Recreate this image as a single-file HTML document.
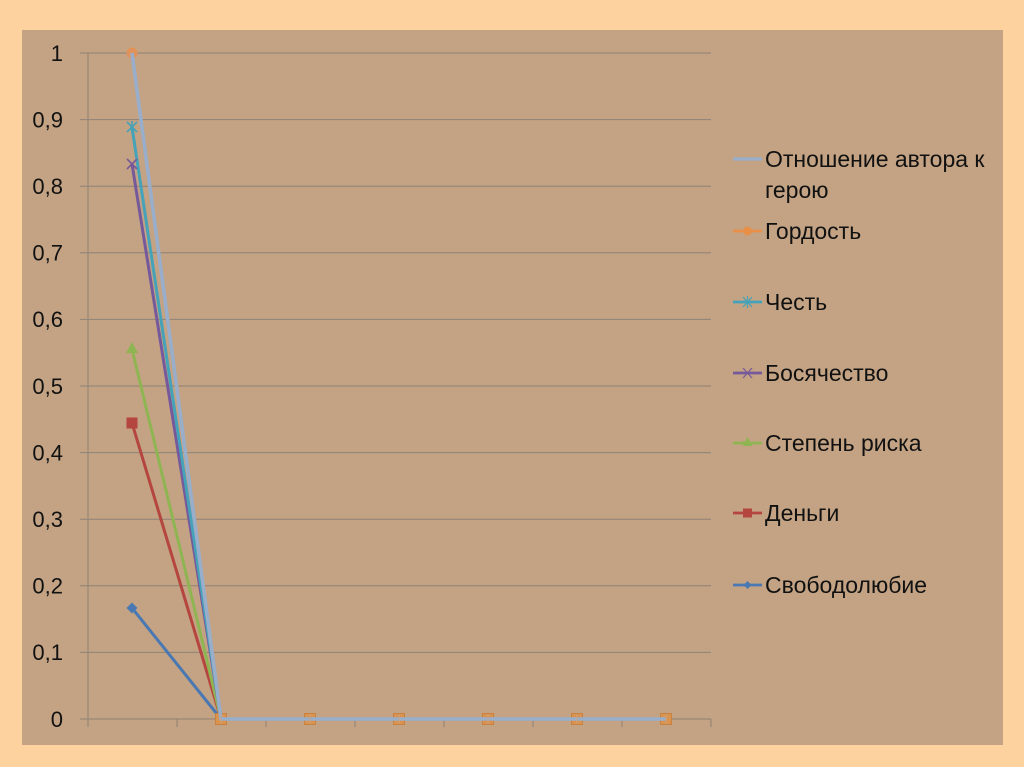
<!DOCTYPE html>
<html>
<head>
<meta charset="utf-8">
<style>
html,body{margin:0;padding:0;background:#FED29E;}
svg{display:block;}
text{font-family:"Liberation Sans","DejaVu Sans",sans-serif;fill:#111;}
</style>
</head>
<body>
<svg width="1024" height="767" viewBox="0 0 1024 767" xmlns="http://www.w3.org/2000/svg">
  <rect x="0" y="0" width="1024" height="767" fill="#FED29E"/>
  <rect x="22" y="30" width="981" height="715" fill="#C3A383"/>

  <!-- gridlines -->
  <g stroke="#8E8276" stroke-width="1">
    <line x1="80" y1="53" x2="711" y2="53"/>
    <line x1="80" y1="119.6" x2="711" y2="119.6"/>
    <line x1="80" y1="186.2" x2="711" y2="186.2"/>
    <line x1="80" y1="252.8" x2="711" y2="252.8"/>
    <line x1="80" y1="319.4" x2="711" y2="319.4"/>
    <line x1="80" y1="386" x2="711" y2="386"/>
    <line x1="80" y1="452.6" x2="711" y2="452.6"/>
    <line x1="80" y1="519.2" x2="711" y2="519.2"/>
    <line x1="80" y1="585.8" x2="711" y2="585.8"/>
    <line x1="80" y1="652.4" x2="711" y2="652.4"/>
    <line x1="80" y1="719" x2="711" y2="719"/>
    <line x1="88" y1="53" x2="88" y2="719"/>
    <line x1="88" y1="719" x2="88" y2="727"/>
    <line x1="177" y1="719" x2="177" y2="727"/>
    <line x1="266" y1="719" x2="266" y2="727"/>
    <line x1="355" y1="719" x2="355" y2="727"/>
    <line x1="444" y1="719" x2="444" y2="727"/>
    <line x1="533" y1="719" x2="533" y2="727"/>
    <line x1="622" y1="719" x2="622" y2="727"/>
    <line x1="711" y1="719" x2="711" y2="727"/>
  </g>

  <!-- y labels -->
  <g font-size="22" text-anchor="end">
    <text x="63" y="61">1</text>
    <text x="63" y="127.5">0,9</text>
    <text x="63" y="194">0,8</text>
    <text x="63" y="260.5">0,7</text>
    <text x="63" y="327">0,6</text>
    <text x="63" y="394">0,5</text>
    <text x="63" y="460.5">0,4</text>
    <text x="63" y="527">0,3</text>
    <text x="63" y="593.5">0,2</text>
    <text x="63" y="660">0,1</text>
    <text x="63" y="727">0</text>
  </g>

  <!-- series lines -->
  <g fill="none" stroke-width="3" stroke-linejoin="round">
    <polyline stroke="#4A78B2" points="132,608 221,719 666,719"/>
    <polyline stroke="#B5463F" points="132,423 221,719 666,719"/>
    <polyline stroke="#8FB553" points="132,349 221,719 666,719"/>
    <polyline stroke="#76599A" points="132,164 221,719 666,719"/>
    <polyline stroke="#45A2B9" points="132,127 221,719 666,719"/>
    <polyline stroke="#E88F48" points="132,53 221,719 666,719"/>
  </g>

  <!-- first-point markers -->
  <polygon points="132,602.5 137.5,608 132,613.5 126.5,608" fill="#4A78B2"/>
  <rect x="126.5" y="417.5" width="11" height="11" fill="#B5463F"/>
  <polygon points="132,342 138,353 126,353" fill="#8FB553"/>
  <g stroke="#76599A" stroke-width="1.6">
    <line x1="127" y1="159" x2="137" y2="169"/>
    <line x1="137" y1="159" x2="127" y2="169"/>
  </g>
  <g stroke="#45A2B9" stroke-width="1.6">
    <line x1="127" y1="122" x2="137" y2="132"/>
    <line x1="137" y1="122" x2="127" y2="132"/>
    <line x1="132" y1="121" x2="132" y2="133"/>
  </g>
  <circle cx="132" cy="53" r="5.5" fill="#E0925A"/>

  <!-- zero markers -->
  <g fill="#DB9350" stroke="#C9813F" stroke-width="1">
    <rect x="215.5" y="713.5" width="11" height="11"/>
    <rect x="304.5" y="713.5" width="11" height="11"/>
    <rect x="393.5" y="713.5" width="11" height="11"/>
    <rect x="482.5" y="713.5" width="11" height="11"/>
    <rect x="571.5" y="713.5" width="11" height="11"/>
    <rect x="660.5" y="713.5" width="11" height="11"/>
  </g>

  <!-- Отношение автора к герою line -->
  <polyline fill="none" stroke="#98AECB" stroke-width="3.6" stroke-linejoin="round" points="132,53 221,719 666,719"/>
  <g stroke="#C9A27E" stroke-width="1">
    <line x1="221" y1="714" x2="221" y2="724"/>
    <line x1="310" y1="714" x2="310" y2="724"/>
    <line x1="399" y1="714" x2="399" y2="724"/>
    <line x1="488" y1="714" x2="488" y2="724"/>
    <line x1="577" y1="714" x2="577" y2="724"/>
    <line x1="666" y1="714" x2="666" y2="724"/>
  </g>

  <!-- legend -->
  <g stroke-width="2.8">
    <line x1="733" y1="159" x2="762" y2="159" stroke="#98AECB" stroke-width="3.2"/>
    <line x1="733" y1="231" x2="762" y2="231" stroke="#E88F48"/>
    <line x1="733" y1="302" x2="762" y2="302" stroke="#45A2B9"/>
    <line x1="733" y1="373" x2="762" y2="373" stroke="#76599A"/>
    <line x1="733" y1="443" x2="762" y2="443" stroke="#8FB553"/>
    <line x1="733" y1="513" x2="762" y2="513" stroke="#B5463F"/>
    <line x1="733" y1="585" x2="762" y2="585" stroke="#4A78B2"/>
  </g>
  <circle cx="747.5" cy="231" r="4.5" fill="#E88F48"/>
  <g stroke="#45A2B9" stroke-width="1.2">
    <line x1="743" y1="297" x2="752" y2="307"/>
    <line x1="752" y1="297" x2="743" y2="307"/>
    <line x1="747.5" y1="296" x2="747.5" y2="308"/>
  </g>
  <g stroke="#76599A" stroke-width="1.2">
    <line x1="743" y1="368" x2="752" y2="378"/>
    <line x1="752" y1="368" x2="743" y2="378"/>
  </g>
  <polygon points="747.5,437 752.5,446 742.5,446" fill="#8FB553"/>
  <rect x="743" y="508.5" width="9" height="9" fill="#B5463F"/>
  <polygon points="747.5,581 751.5,585 747.5,589 743.5,585" fill="#4A78B2"/>

  <g font-size="23">
    <text x="765" y="167">Отношение автора к</text>
    <text x="765" y="198">герою</text>
    <text x="765" y="239">Гордость</text>
    <text x="765" y="310">Честь</text>
    <text x="765" y="381">Босячество</text>
    <text x="765" y="451">Степень риска</text>
    <text x="765" y="521">Деньги</text>
    <text x="765" y="593">Свободолюбие</text>
  </g>
</svg>
</body>
</html>
